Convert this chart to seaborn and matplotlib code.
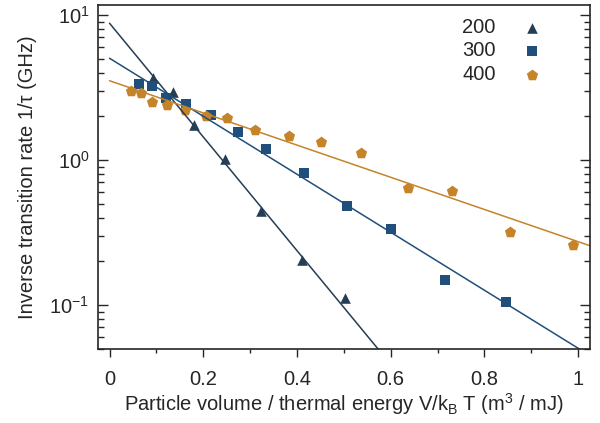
import numpy as np
import pandas as pd
import matplotlib
matplotlib.use("Agg")
import matplotlib.pyplot as plt
import seaborn as sns
from matplotlib.ticker import LogLocator, MultipleLocator

# measured points (x = V/kB T, y = 1/tau in GHz)
x_200 = [0.093, 0.135, 0.180, 0.246, 0.323, 0.410, 0.502]
y_200 = [3.68, 2.96, 1.74, 1.02, 0.447, 0.204, 0.112]

x_300 = [0.063, 0.090, 0.121, 0.163, 0.216, 0.274, 0.334, 0.415, 0.506, 0.600, 0.716, 0.847]
y_300 = [3.33, 3.22, 2.66, 2.42, 2.03, 1.55, 1.19, 0.813, 0.48, 0.333, 0.149, 0.105]

x_400 = [0.046, 0.067, 0.090, 0.122, 0.161, 0.205, 0.251, 0.311, 0.383, 0.452,
         0.536, 0.636, 0.731, 0.855, 0.990]
y_400 = [2.99, 2.89, 2.50, 2.41, 2.20, 2.02, 1.95, 1.60, 1.46, 1.34,
         1.11, 0.641, 0.606, 0.320, 0.259]

# exponential fits: y = amp * 10**(slope * x)
series = ["200", "300", "400"]
fit_amp = [8.77, 5.03, 3.52]
fit_slope = [-3.92, -2.0, -1.11]

colors = {"200": "#253d55", "300": "#1f4f7a", "400": "#c5832a"}
markers = {"200": "^", "300": "s", "400": "p"}
msizes = {"200": 58, "300": 42, "400": 72}

pts = {
    "200": pd.DataFrame({"x": x_200, "y": y_200}),
    "300": pd.DataFrame({"x": x_300, "y": y_300}),
    "400": pd.DataFrame({"x": x_400, "y": y_400}),
}

xfit = np.linspace(0, 1.1, 200)
fits = pd.concat([
    pd.DataFrame({"x": xfit, "y": a * 10 ** (b * xfit), "T": s})
    for s, a, b in zip(series, fit_amp, fit_slope)
])

sns.set_style("ticks")
plt.rcParams["font.family"] = ["Liberation Sans", "DejaVu Sans"]
plt.rcParams["mathtext.default"] = "regular"
plt.rcParams["axes.unicode_minus"] = False

fig, ax = plt.subplots(figsize=(6, 4.23), dpi=100)
fig.subplots_adjust(left=0.163, right=0.983, top=0.988, bottom=0.175)

sns.lineplot(data=fits, x="x", y="y", hue="T", palette=colors,
             linewidth=1.1, legend=False, ax=ax)
for s in series:
    sns.scatterplot(data=pts[s], x="x", y="y", color=colors[s],
                    marker=markers[s], s=msizes[s], linewidth=0,
                    label=s, ax=ax)

ax.set_yscale("log")
ax.set_xlim(-0.025, 1.025)
ax.set_ylim(0.0497, 11.7)
ax.xaxis.set_minor_locator(MultipleLocator(0.1))
ax.set_xticks([0, 0.2, 0.4, 0.6, 0.8, 1.0])
ax.set_xticklabels(["0", "0.2", "0.4", "0.6", "0.8", "1"])
ax.yaxis.set_major_locator(LogLocator(base=10))
ax.yaxis.set_minor_locator(LogLocator(base=10, subs=np.arange(2, 10)))

ax.tick_params(axis="x", which="major", direction="out", length=6, width=1,
               labelsize=14.5, pad=9, top=False)
ax.tick_params(axis="x", which="minor", direction="out", length=3, width=1, top=False)
ax.tick_params(axis="y", which="major", direction="in", length=7, width=1,
               labelsize=14.5, left=True, right=True, pad=6)
ax.tick_params(axis="y", which="minor", direction="in", length=4, width=1,
               left=True, right=True)
for sp in ax.spines.values():
    sp.set_linewidth(1.2)
    sp.set_visible(True)

ax.set_xlabel("Particle volume / thermal energy V/k$_{B}$ T (m$^{3}$ / mJ)",
              fontsize=14.5, labelpad=2)
ax.set_ylabel("Inverse transition rate 1/\u03c4 (GHz)", fontsize=14.5, labelpad=9)

handles, labels = ax.get_legend_handles_labels()
ax.legend(handles, labels, loc="upper right", bbox_to_anchor=(0.96, 1.015),
          frameon=False, markerfirst=False, fontsize=14.5, labelspacing=0.22,
          handletextpad=0.8, handlelength=2.0)

plt.savefig("out.png", dpi=100)
plt.close()
